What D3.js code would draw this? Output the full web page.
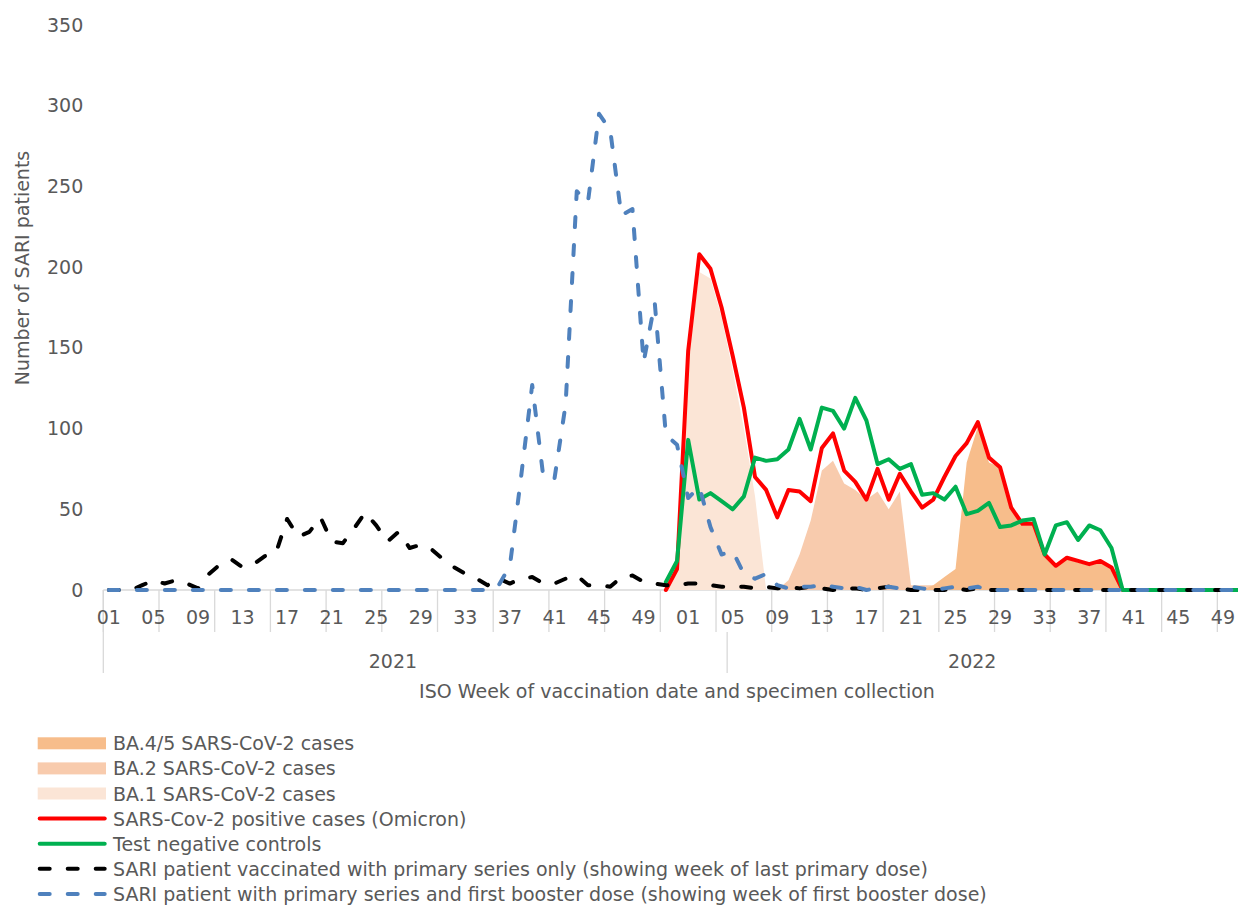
<!DOCTYPE html>
<html>
<head>
<meta charset="utf-8">
<script src="https://cdn.jsdelivr.net/npm/d3@7"></script>
<style>
    body { margin: 0; background: #fff; }
    svg { display: block; font-family: "DejaVu Sans", Verdana, sans-serif; }
</style>
</head>
<body>
<svg id="chart" width="1238" height="905"></svg>
<script>
// ---- data ----
var years = ["2021", "2022"];
var tickWeeks = ["01", "05", "09", "13", "17", "21", "25", "29", "33", "37", "41", "45", "49"];
var yTicks = [0, 50, 100, 150, 200, 250, 300, 350];

// SARI patients vaccinated with primary series only (week of last primary dose)
var primary2021 = [0, 0, 0, 3, 6, 4, 6, 4, 1, 10, 16, 19, 14, 16, 21, 23, 44, 33, 36, 45, 30, 29, 38, 48, 40, 30,
    36, 26, 28, 25, 19, 14, 10, 7, 3, 7, 4, 7, 8, 4, 4, 7, 9, 3, 3, 2, 8, 9, 5, 4, 3, 3];
var primary2022 = [4, 4, 3, 2, 2, 2, 1, 2, 1, 2, 1, 2, 1, 0, 1, 1, 0, 1, 2, 1, 0, 0, 0, 0, 1, 0,
    1, 0, 0, 0, 0, 0, 0, 0, 0, 0, 0, 0, 0, 0, 0, 0, 0, 0, 0, 0, 0, 0, 0, 0, 0, 0];

// SARI patients with primary series and first booster (week of first booster dose)
var booster2021 = [0, 0, 0, 0, 0, 0, 0, 0, 0, 0, 0, 0, 0, 0, 0, 0, 0, 0, 0, 0, 0, 0, 0, 0, 0, 0,
    0, 0, 0, 0, 0, 0, 0, 0, 0, 3, 15, 70, 127, 70, 69, 115, 247, 240, 295, 285, 232, 236, 141, 178, 96, 90];
var booster2022 = [57, 64, 39, 22, 24, 10, 7, 10, 3, 1, 2, 2, 3, 2, 1, 2, 0, 1, 2, 1, 2, 1, 0, 1, 2, 1,
    2, 0, 0, 0, 0, 0, 0, 0, 0, 0, 0, 0, 0, 0, 0, 0, 0, 0, 0, 0, 0, 0, 0, 0, 0, 0];

// these series start at 2021 week 51
var positiveStart = "2021-51";
var positiveCases = [0, 13,
    148, 208, 199, 175, 145, 113, 70, 62, 45, 62, 61, 55, 88, 97, 74, 67, 56, 75, 56, 72,
    61, 51, 56, 70, 83, 91, 104, 82, 76, 51, 41, 41, 22, 15, 20, 18, 16, 18, 14, 0,
    0, 0, 0, 0, 0, 0, 0, 0, 0, 0, 0, 0];
var negativeControls = [5, 18,
    93, 56, 60, 55, 50, 58, 82, 80, 81, 87, 106, 87, 113, 111, 100, 119, 105, 78, 81, 75,
    78, 59, 60, 56, 64, 47, 49, 54, 39, 40, 43, 44, 22, 40, 42, 31, 40, 37, 26, 0,
    0, 0, 0, 0, 0, 0, 0, 0, 0, 0, 0, 0];

var ba1Start = "2021-51";
var ba1Cases = [0, 12, 142, 197, 193, 169, 136, 100, 58, 0];
var ba2Start = "2022-09";
var ba2Cases = [0, 6, 22, 43, 74, 80, 66, 62, 56, 61, 50, 61, 3, 3, 3, 0];
var ba45Start = "2022-22";
var ba45Cases = [0, 3, 8, 13, 79, 101, 79, 76, 50, 40, 40, 21, 14, 19, 17, 15, 17, 13, 0];

// ---- categories: year-week ----
var categories = [];
years.forEach(function (yr) {
    d3.range(1, 53).forEach(function (w) {
        categories.push(yr + "-" + (w < 10 ? "0" + w : "" + w));
    });
});

function seriesFrom(startCat, values) {
    var start = categories.indexOf(startCat);
    return values.map(function (v, i) { return { cat: categories[start + i], v: v }; });
}

var primaryData = seriesFrom("2021-01", primary2021.concat(primary2022));
var boosterData = seriesFrom("2021-01", booster2021.concat(booster2022));
var positiveData = seriesFrom(positiveStart, positiveCases);
var negativeData = seriesFrom(positiveStart, negativeControls);
var ba1Data = seriesFrom(ba1Start, ba1Cases);
var ba2Data = seriesFrom(ba2Start, ba2Cases);
var ba45Data = seriesFrom(ba45Start, ba45Cases);

// ---- layout ----
var plot = { left: 103.3, right: 1261.9, top: 25, bottom: 590 };
var textColor = "#595959";
var axisColor = "#d9d9d9";
var fontSize = "19px";
var colors = {
    ba45: "#f7bd8b",
    ba2: "#f8cbad",
    ba1: "#fbe5d6",
    positive: "#ff0000",
    negative: "#00b050",
    primary: "#000000",
    booster: "#4f81bd"
};

var svg = d3.select("#chart");

var x = d3.scaleBand().domain(categories).range([plot.left, plot.right]).padding(0);
var y = d3.scaleLinear().domain([0, 350]).range([plot.bottom, plot.top]);
function cx(c) { return x(c) + x.bandwidth() / 2; }

// axis base line
svg.append("line")
    .attr("x1", plot.left).attr("x2", plot.right)
    .attr("y1", plot.bottom).attr("y2", plot.bottom)
    .attr("stroke", axisColor).attr("stroke-width", 1.3);

// tick marks every 5 categories
var tickEdges = d3.range(0, categories.length, 5).map(function (i) { return x(categories[i]); });
svg.selectAll(".tick-mark")
    .data(tickEdges)
    .enter().append("line")
    .attr("class", "tick-mark")
    .attr("x1", d => d).attr("x2", d => d)
    .attr("y1", plot.bottom).attr("y2", 632)
    .attr("stroke", axisColor).attr("stroke-width", 1.3);

// year level separators
svg.append("line")
    .attr("x1", plot.left).attr("x2", plot.left)
    .attr("y1", plot.bottom).attr("y2", 673)
    .attr("stroke", axisColor).attr("stroke-width", 1.3);
svg.append("line")
    .attr("x1", x("2022-05")).attr("x2", x("2022-05"))
    .attr("y1", 632).attr("y2", 673)
    .attr("stroke", axisColor).attr("stroke-width", 1.3);

// areas
var area = d3.area()
    .x(d => cx(d.cat))
    .y0(y(0))
    .y1(d => y(d.v));

[[ba1Data, colors.ba1], [ba2Data, colors.ba2], [ba45Data, colors.ba45]].forEach(function (s) {
    svg.append("path")
        .datum(s[0])
        .attr("d", area)
        .attr("fill", s[1]);
});

// lines
var line = d3.line()
    .defined(d => d.v != null)
    .x(d => cx(d.cat))
    .y(d => y(d.v));

function drawLine(data, color, dashed) {
    svg.append("path")
        .datum(data)
        .attr("d", line)
        .attr("fill", "none")
        .attr("stroke", color)
        .attr("stroke-width", 4)
        .attr("stroke-linejoin", "round")
        .attr("stroke-linecap", "round")
        .attr("stroke-dasharray", dashed ? "10,18" : null);
}

drawLine(positiveData, colors.positive, false);
drawLine(negativeData, colors.negative, false);
drawLine(primaryData, colors.primary, true);
drawLine(boosterData, colors.booster, true);

// x tick labels
var tickCats = [];
years.forEach(function (yr) { tickWeeks.forEach(function (w) { tickCats.push(yr + "-" + w); }); });

var xAxis = svg.append("g")
    .attr("transform", "translate(0," + plot.bottom + ")")
    .call(d3.axisBottom(x).tickValues(tickCats).tickSize(0).tickPadding(21).tickFormat(d => d.slice(5)));
xAxis.select(".domain").remove();
xAxis.attr("font-family", null).attr("font-size", null);
xAxis.selectAll("text").attr("fill", textColor).style("font-size", fontSize);

// y axis labels
var yAxis = svg.append("g")
    .attr("transform", "translate(" + plot.left + ",0)")
    .call(d3.axisLeft(y).tickValues(yTicks).tickSize(0).tickPadding(20));
yAxis.select(".domain").remove();
yAxis.attr("font-family", null).attr("font-size", null);
yAxis.selectAll("text").attr("fill", textColor).style("font-size", fontSize);

// year labels
years.forEach(function (yr) {
    var x0 = x(yr + "-01");
    var x1 = x(yr + "-52") + x.bandwidth();
    svg.append("text")
        .attr("x", (x0 + x1) / 2)
        .attr("y", 661)
        .attr("text-anchor", "middle")
        .attr("dominant-baseline", "central")
        .attr("fill", textColor)
        .style("font-size", fontSize)
        .text(yr);
});

// axis titles
svg.append("text")
    .attr("x", 677)
    .attr("y", 691)
    .attr("text-anchor", "middle")
    .attr("dominant-baseline", "central")
    .attr("fill", textColor)
    .style("font-size", fontSize)
    .text("ISO Week of vaccination date and specimen collection");

svg.append("text")
    .attr("transform", "translate(22,268) rotate(-90)")
    .attr("text-anchor", "middle")
    .attr("dominant-baseline", "central")
    .attr("fill", textColor)
    .style("font-size", fontSize)
    .text("Number of SARI patients");

// legend
var legendItems = [
    { label: "BA.4/5 SARS-CoV-2 cases", type: "area", color: colors.ba45 },
    { label: "BA.2 SARS-CoV-2 cases", type: "area", color: colors.ba2 },
    { label: "BA.1 SARS-CoV-2 cases", type: "area", color: colors.ba1 },
    { label: "SARS-Cov-2 positive cases (Omicron)", type: "line", color: colors.positive },
    { label: "Test negative controls", type: "line", color: colors.negative },
    { label: "SARI patient vaccinated with primary series only (showing week of last primary dose)", type: "dash", color: colors.primary },
    { label: "SARI patient with primary series and first booster dose (showing week of first booster dose)", type: "dash", color: colors.booster }
];

var legend = svg.append("g");
legendItems.forEach(function (item, i) {
    var rowY = 743.3 + i * 25.1;
    if (item.type === "area") {
        legend.append("rect")
            .attr("x", 37.7).attr("y", rowY - 6)
            .attr("width", 68.3).attr("height", 12)
            .attr("fill", item.color);
    } else {
        legend.append("line")
            .attr("x1", 39.7).attr("x2", 104.7)
            .attr("y1", rowY).attr("y2", rowY)
            .attr("stroke", item.color)
            .attr("stroke-width", 4)
            .attr("stroke-linecap", "round")
            .attr("stroke-dasharray", item.type === "dash" ? "10,18" : null);
    }
    legend.append("text")
        .attr("x", 113)
        .attr("y", rowY)
        .attr("dominant-baseline", "central")
        .attr("fill", textColor)
        .style("font-size", fontSize)
        .text(item.label);
});
</script>
</body>
</html>
